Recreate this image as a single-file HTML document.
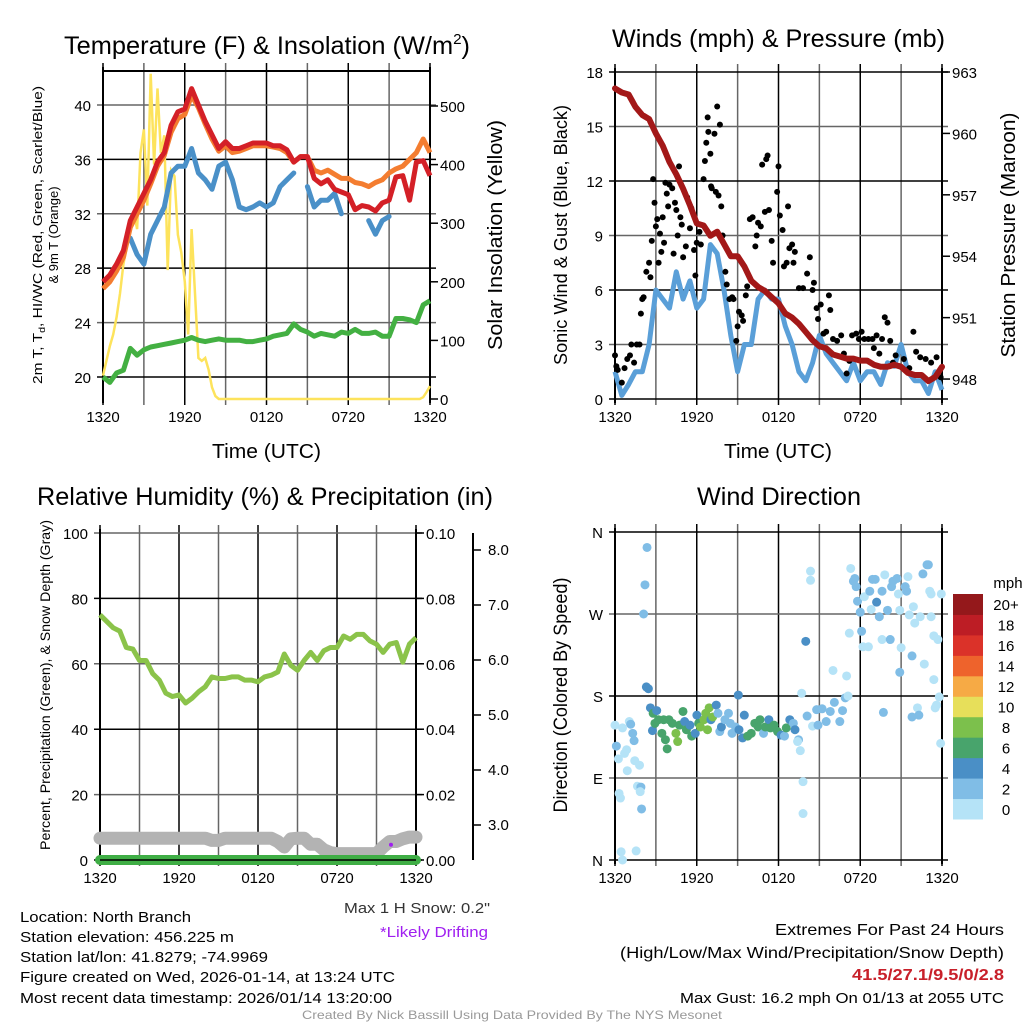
<!DOCTYPE html>
<html><head><meta charset="utf-8"><style>
html,body{margin:0;padding:0;background:#fff;}
svg{display:block;font-family:"Liberation Sans",sans-serif;}
</style></head><body>
<svg id="fig" width="1024" height="1024" viewBox="0 0 1024 1024" xmlns="http://www.w3.org/2000/svg">
<rect width="1024" height="1024" fill="#fff"/>
<!-- titles -->
<text x="64" y="54" font-size="25" textLength="406" lengthAdjust="spacingAndGlyphs">Temperature (F) &amp; Insolation (W/m<tspan font-size="15" dy="-10">2</tspan><tspan dy="10">)</tspan></text>
<text x="612" y="47" font-size="25" textLength="333" lengthAdjust="spacingAndGlyphs">Winds (mph) &amp; Pressure (mb)</text>
<text x="37" y="505" font-size="25" textLength="456" lengthAdjust="spacingAndGlyphs">Relative Humidity (%) &amp; Precipitation (in)</text>
<text x="697" y="505" font-size="25" textLength="164" lengthAdjust="spacingAndGlyphs">Wind Direction</text>
<!-- axis titles -->
<text x="212" y="458" font-size="20" textLength="109" lengthAdjust="spacingAndGlyphs">Time (UTC)</text>
<text x="724" y="458" font-size="20" textLength="108" lengthAdjust="spacingAndGlyphs">Time (UTC)</text>
<text transform="translate(42,235) rotate(-90)" text-anchor="middle" font-size="13" textLength="298" lengthAdjust="spacingAndGlyphs">2m T, T<tspan font-size="9" dy="3">d</tspan><tspan dy="-3">, HI/WC (Red, Green, Scarlet/Blue)</tspan></text>
<text transform="translate(58,235) rotate(-90)" text-anchor="middle" font-size="13">&amp; 9m T (Orange)</text>
<text transform="translate(502,235) rotate(-90)" text-anchor="middle" font-size="20" textLength="230" lengthAdjust="spacingAndGlyphs">Solar Insolation (Yellow)</text>
<text transform="translate(567,235) rotate(-90)" text-anchor="middle" font-size="18" textLength="260" lengthAdjust="spacingAndGlyphs">Sonic Wind &amp; Gust (Blue, Black)</text>
<text transform="translate(1015,235) rotate(-90)" text-anchor="middle" font-size="20" textLength="245" lengthAdjust="spacingAndGlyphs">Station Pressure (Maroon)</text>
<text transform="translate(50,685) rotate(-90)" text-anchor="middle" font-size="14" textLength="330" lengthAdjust="spacingAndGlyphs">Percent, Precipitation (Green), &amp; Snow Depth (Gray)</text>
<text transform="translate(567,695) rotate(-90)" text-anchor="middle" font-size="19" textLength="235" lengthAdjust="spacingAndGlyphs">Direction (Colored By Speed)</text>
<!-- footer text -->
<text x="344" y="913" font-size="15" textLength="146" lengthAdjust="spacingAndGlyphs" fill="#333">Max 1 H Snow: 0.2"</text>
<text x="380" y="937" font-size="15" textLength="108" lengthAdjust="spacingAndGlyphs" fill="#a020f0">*Likely Drifting</text>
<text x="20" y="922" font-size="15" textLength="171" lengthAdjust="spacingAndGlyphs">Location: North Branch</text>
<text x="20" y="942" font-size="15" textLength="214" lengthAdjust="spacingAndGlyphs">Station elevation: 456.225 m</text>
<text x="20" y="962" font-size="15" textLength="248" lengthAdjust="spacingAndGlyphs">Station lat/lon: 41.8279; -74.9969</text>
<text x="20" y="982" font-size="15" textLength="375" lengthAdjust="spacingAndGlyphs">Figure created on Wed, 2026-01-14, at 13:24 UTC</text>
<text x="20" y="1003" font-size="15" textLength="372" lengthAdjust="spacingAndGlyphs">Most recent data timestamp: 2026/01/14 13:20:00</text>
<text x="775" y="935" font-size="16" textLength="229" lengthAdjust="spacingAndGlyphs">Extremes For Past 24 Hours</text>
<text x="620" y="958" font-size="16" textLength="384" lengthAdjust="spacingAndGlyphs">(High/Low/Max Wind/Precipitation/Snow Depth)</text>
<text x="852" y="980" font-size="16" font-weight="bold" fill="#c8202a" textLength="152" lengthAdjust="spacingAndGlyphs">41.5/27.1/9.5/0/2.8</text>
<text x="680" y="1003" font-size="15" textLength="324" lengthAdjust="spacingAndGlyphs">Max Gust: 16.2 mph On 01/13 at 2055 UTC</text>
<text x="302" y="1019" font-size="12" fill="#999" textLength="420" lengthAdjust="spacingAndGlyphs">Created By Nick Bassill Using Data Provided By The NYS Mesonet</text>
<g id="layer"></g>
</svg>
<script>
// ---------- data ----------
const xLabels = ["1320","1920","0120","0720","1320"];
const tempRed = [27,27.5,28.3,29.3,31.5,32.5,33.5,34.5,35.8,36.5,38.5,39.5,39.7,41.2,40,38.8,37.8,36.8,37.3,36.8,36.8,37,37.2,37.2,37.2,37,37,36.7,35.8,36.2,36.2,34.6,34.2,34.5,33.8,33.6,33.4,32.3,32.6,32.5,32.2,32.8,33,34.7,34.8,33,35.8,35.9,34.8];
const tempOrange = [26.5,27,27.8,28.8,31,32,33,34.2,35.5,36.3,38,39,39.3,40.7,39.8,38.6,37.5,36.6,37,36.5,36.6,36.8,37,37,37,36.9,36.8,36.5,35.8,36.2,36.2,35.2,35,35.2,34.9,34.6,34.6,34.3,34.2,34,34.3,34.5,35,35.3,35.5,36,36.5,37.5,36.5];
const tempBlue = [null,null,null,null,30.2,29,28.3,30.5,31.5,32.5,35,35.5,35.5,36.8,35,34.5,33.8,35.5,35.8,34.5,32.5,32.3,32.5,32.8,32.5,32.8,34,34.5,35,null,34,32.5,33,33,33.5,32,null,null,null,31.5,30.5,31.5,31.8,null,null,34,null,null,null];
const dewGreen = [20,19.6,20.3,20.5,22.1,21.6,22,22.2,22.3,22.4,22.5,22.6,22.7,22.9,22.7,22.6,22.7,22.8,22.7,22.7,22.7,22.6,22.6,22.7,22.8,23,23.1,23.2,23.9,23.5,23.3,23,23.2,23.1,23,23.3,23.2,23.5,23.2,23.2,23.3,23,23,24.3,24.3,24.2,24,25.3,25.6];
const solar = [40,65,90,110,140,180,230,260,300,320,290,420,460,330,555,400,530,420,450,220,390,380,280,250,200,110,290,180,70,65,70,50,20,5,0,0,0,0,0,0,0,0,0,0,0,0,0,0,0,0,0,0,0,0,0,0,0,0,0,0,0,0,0,0,0,0,0,0,0,0,0,0,0,0,0,0,0,0,0,0,0,0,0,0,0,0,0,0,0,0,0,0,0,0,3,12,22];
const pressure = [962.2,962.0,961.9,961.3,960.9,960.7,960.0,959.4,958.6,958.0,957.3,956.5,955.6,955.5,955.0,955.2,954.6,954.0,954.0,953.5,952.8,952.5,952.3,952.0,951.7,951.2,951.0,950.7,950.3,949.9,949.6,949.5,949.2,949.1,949.0,949.0,948.9,948.9,948.7,948.6,948.6,948.7,948.6,948.3,948.2,948.2,947.9,948.1,948.6];
const windSpeed = [1.5,0.2,0.8,1.5,1.5,3,6,5.5,5,7,5.5,6.5,5,5.5,8.5,8,6,3.5,1.5,3,3,5.5,6,5.5,5.5,4,3,1.5,1,2,3.5,2.5,2,1.5,1,2,1,1.5,1.5,0.8,2,1.8,3,1.5,1,1,0.3,1.5,0.5];
const gustHours = [0,0.1,0.2,0.5,0.7,0.9,1.1,1.2,1.4,1.6,1.8,1.9,2.0,2.1,2.3,2.5,2.6,2.7,2.8,2.9,3.0,3.1,3.2,3.3,3.4,3.5,3.6,3.7,3.8,3.9,4.0,4.2,4.3,4.4,4.5,4.6,4.7,4.8,4.9,5.0,5.2,5.3,5.5,5.6,5.8,5.9,6.0,6.2,6.3,6.5,6.6,6.7,6.8,6.85,7.0,7.05,7.1,7.3,7.4,7.5,7.6,7.7,7.8,7.9,8.1,8.2,8.4,8.6,8.7,8.9,9.0,9.1,9.3,9.4,9.6,9.7,9.9,10.1,10.3,10.4,10.5,10.7,10.8,11.0,11.1,11.2,11.3,11.5,11.6,11.9,12.0,12.1,12.3,12.4,12.6,12.7,12.8,13.0,13.1,13.2,13.5,13.8,14.1,14.3,14.5,14.6,14.8,14.9,15.1,15.3,15.5,15.7,15.8,16.0,16.3,16.6,16.8,17.0,17.2,17.4,17.7,17.9,18.1,18.3,18.6,18.9,19.0,19.2,19.4,19.6,19.8,20.0,20.2,20.4,20.6,20.9,21.2,21.6,21.9,22.1,22.4,22.8,23.2,23.6,23.9];
const gustValues = [2.4,1.8,1.6,0.9,1.7,2.2,2.4,3.0,2.0,3.0,3.0,4.7,5.5,5.6,7.0,7.5,6.7,8.7,12.1,10.8,9.5,9.9,7.5,9.1,8.1,10,8.6,11.9,11.3,10.6,11.8,11.6,8.0,10.8,10.4,9.0,12.8,10.0,9.6,7.8,8.4,11.1,9.4,10.5,8.2,6.8,8.6,9.2,8.5,12.1,13.1,14.1,15.5,14.7,13.5,11.7,11.6,14.6,11.4,16.1,11.2,15.1,10.6,9.0,7.0,6.3,5.5,5.6,5.5,3.2,4.0,4.8,4.6,4.3,5.7,6.2,9.9,10.0,8.4,9.0,9.7,9.5,12.9,10.3,13.2,13.4,10.4,8.7,7.5,11.4,12.8,10.1,9.3,7.3,7.5,10.6,8.3,8.5,7.5,8.1,6.1,6.1,6.9,7.8,6.0,6.4,5.0,4.4,5.2,3.6,3.7,5.7,4.9,3.3,3.2,3.5,2.5,1.4,2.1,3.5,3.6,3.3,3.7,3.3,3.3,3.3,2.8,3.5,2.5,3.3,4.5,4.2,3.2,2.0,2.4,1.8,2.2,1.7,3.7,2.6,2.3,2.2,2.0,2.3,1.2];
const rh = [75,73,71,70,65,64.5,61,61,57,55,51,50,50.5,48,49.5,51.5,53,56,55.5,55.5,56,56,55,55,54.5,56,56.5,57.5,63,59.5,58,61,63.5,61,64,65,65,68.5,67.5,69,69,67,66,63.5,66,66.5,60.5,66,68];
const precip = [0,0,0,0,0,0,0,0,0,0,0,0,0,0,0,0,0,0,0,0,0,0,0,0,0,0,0,0,0,0,0,0,0,0,0,0,0,0,0,0,0,0,0,0,0,0,0,0,0];
const snowDepth = [2.76,2.76,2.76,2.76,2.76,2.76,2.76,2.76,2.76,2.76,2.76,2.76,2.76,2.76,2.76,2.76,2.76,2.72,2.72,2.76,2.76,2.76,2.76,2.76,2.76,2.76,2.76,2.7,2.6,2.75,2.76,2.76,2.65,2.65,2.55,2.5,2.48,2.48,2.48,2.48,2.48,2.48,2.48,2.6,2.7,2.7,2.75,2.78,2.78];
const driftHours = [22.1];
const driftValues = [2.64];
const dirHours = [0,0.1,0.25,0.55,0.7,0.85,0.9,0.3,0.4,0.45,0.55,1.05,1.15,1.3,1.4,1.45,1.8,1.55,1.65,1.95,1.9,1.85,2.1,2.2,2.35,2.3,2.45,2.6,2.75,
2.8,2.93,3.06,3.19,3.44,3.57,3.7,3.83,3.96,4.21,4.47,4.6,4.73,4.99,5.11,5.24,5.5,5.63,5.89,6.01,6.14,6.27,6.53,6.66,6.79,6.91,7.04,7.17,7.43,7.56,7.69,7.81,8.07,9.05,8.33,8.46,8.59,8.84,9.1,9.36,9.49,9.74,10.0,10.26,10.51,10.64,10.9,11.03,11.29,11.41,11.67,11.93,12.19,12.44,12.57,12.83,13.09,13.21,13.47,
14.0,13.8,13.8,13.7,13.6,13.4,14.1,14.35,14.35,14.5,14.8,15.2,14.9,15.5,15.8,16.0,16.1,16.5,16.7,17.0,16.9,17.1,17.2,17.3,17.5,17.6,17.7,17.8,18.0,18.1,18.2,18.3,18.6,18.7,18.8,18.9,19.1,19.2,19.4,19.6,19.6,19.7,19.8,20.0,20.2,20.3,20.4,20.7,20.8,20.9,20.9,21.0,21.3,21.4,21.5,21.6,21.8,21.8,21.9,22.0,22.2,22.3,22.4,22.6,22.7,22.9,23.0,23.1,23.2,23.2,23.4,23.4,23.5,23.6,23.7,23.8,23.9,23.95];
const dirDegrees = [148,125,111,145,117,121,98,73,68,9,0,152,149,139,131,109,104,10,81,56,80,75,270,302,343,190,188,167,142,
161,150,164,154,139,154,132,122,154,150,139,130,148,163,152,143,148,136,139,159,150,146,154,161,143,167,154,157,170,161,141,146,154,181,161,150,139,146,143,134,159,136,139,150,146,154,139,146,154,145,148,141,137,136,145,154,150,143,132,
240,86,51,183,120,130,158,307,317,147,165,166,148,152,163,208,173,152,164,202,178,180,249,320,306,309,300,284,272,251,234,289,234,295,275,308,308,283,267,295,242,162,313,274,242,300,306,309,292,206,274,233,300,295,311,269,224,157,278,260,167,159,267,314,215,324,324,295,292,267,246,198,167,170,242,179,128,292];
const dirSpeeds = [1,3,1,1,1,1,1,1,1,0.5,0.5,1,2.5,3,3,1,1,0.5,1,3,3,1,3,3,3,4.5,4.5,4.5,4.5,
6.5,6.5,5,6.5,6.5,6.5,7,6.5,6.5,6.5,8.5,8.5,6.5,6.5,5,6.5,5,6.5,5,5,6.5,8.5,8.5,9,8.5,8.5,5,9,5,3,3,5,3,5,3,3,3,3,5,5,5,6.5,6.5,6.5,6.5,6.5,3,6.5,5,6.5,6.5,6.5,5,3,6.5,5,3,5,3,
4.5,1,1,1,1,1,3,1,1,1,3,3,3,3,3,1,3,3,3,1,3,1,1,1,3,3,3,3,3,3,1,1,1,3,1,3,3,5,3,3,1,3,1,3,3,3,3,3,1,3,1,1,3,3,1,1,3,3,1,1,1,3,1,3,1,3,3,1,1,1,1,1,1,1,1,1,1,1,1,1,1];
const speedBins = ["0","2","4","6","8","10","12","14","16","18","20+"];
const binColors = ["#b5e3f7","#80bde6","#4a8fc6","#48a46c","#7cc04c","#e7df5a","#f6aa45","#ee632c","#db3229","#bd1d25","#94181b"];

// ---------- helpers ----------
const NS = "http://www.w3.org/2000/svg";
const layer = document.getElementById("layer");
function mk(tag, attrs, parent) {
  const e = document.createElementNS(NS, tag);
  for (const k in attrs) e.setAttribute(k, attrs[k]);
  (parent || layer).appendChild(e);
  return e;
}
function tx(x0, x1) { return h => x0 + h / 24 * (x1 - x0); }
function linePath(vals, xf, yf, step) {
  let d = "", pen = false;
  vals.forEach((v, i) => {
    if (v === null) { pen = false; return; }
    d += (pen ? "L" : "M") + xf(i * step).toFixed(1) + "," + yf(v).toFixed(1);
    pen = true;
  });
  return d;
}
function speedColor(s) { return binColors[Math.min(10, Math.floor(s / 2))]; }

// generic panel frame
function frame(P, name) {
  const g = mk("g", {});
  
  
  const X = tx(P.x0, P.x1);
  for (let k = 0; k <= 8; k++) {
    const x = X(k * 3);
    const vl = mk("line", {x1: x, x2: x, y1: P.y0 - 8, y2: P.y1 + 6, stroke: k % 2 ? "#666" : "#000", "stroke-width": 1.5}, g);
    
    
  }
  P.yticks.forEach((t, i) => {
    const y = P.ly(t);
    const hl = mk("line", {x1: P.x0 - 6, x2: P.x1 + 6, y1: y, y2: y, stroke: i % 2 ? "#666" : "#000", "stroke-width": 1.5}, g);
    
    
    const lb = mk("text", {x: P.x0 - 12, y: y + 6, "text-anchor": "end", "font-size": 15}, g);
    lb.textContent = P.ylabels[i];
    
    
  });
  xLabels.forEach((t, i) => {
    const lb = mk("text", {x: X(i * 6), y: P.y1 + 23, "text-anchor": "middle", "font-size": 15}, g);
    lb.textContent = t;
    
    
  });
  const b = mk("path", {d: `M${P.x0},${P.y0 - 4}V${P.y1 + 4}M${P.x1},${P.y0 - 4}V${P.y1 + 4}`, stroke: "#000", "stroke-width": 2, fill: "none"}, g);
  
  
  if (P.rticks) {
    P.rticks.forEach((t, i) => {
      const y = P.ry(t);
      const tk = mk("line", {x1: P.x1, x2: P.x1 + 8, y1: y, y2: y, stroke: "#000", "stroke-width": 1.5}, g);
      
      
      const lb = mk("text", {x: P.x1 + 10, y: y + 6, "font-size": 15}, g);
      lb.textContent = P.rlabels[i];
      
      
    });
  }
  return X;
}

// ---------- Panel 1: temperature ----------
const P1 = {x0: 103, x1: 430, y0: 71, y1: 399};
const tY = v => 399 - (v - 18.38) * 13.6;
const sY = v => 399 - v * 0.586;
P1.ly = tY; P1.yticks = [20, 24, 28, 32, 36, 40]; P1.ylabels = ["20", "24", "28", "32", "36", "40"];
P1.ry = sY; P1.rticks = [0, 100, 200, 300, 400, 500]; P1.rlabels = ["0", "100", "200", "300", "400", "500"];
const X1 = frame(P1, "temperature");
const topLine1 = mk("line", {x1: 103, x2: 430, y1: 71, y2: 71, stroke: "#000", "stroke-width": 2});


const solarLine = mk("path", {d: linePath(solar, X1, sY, 0.25), stroke: "#fde35c", "stroke-width": 2.5, fill: "none"});


const dewLine = mk("path", {d: linePath(dewGreen, X1, tY, 0.5), stroke: "#43b042", "stroke-width": 5, fill: "none", "stroke-linejoin": "round"});


const wcLine = mk("path", {d: linePath(tempBlue, X1, tY, 0.5), stroke: "#4a90c8", "stroke-width": 5, fill: "none", "stroke-linejoin": "round", "stroke-linecap": "round"});


const t9Line = mk("path", {d: linePath(tempOrange, X1, tY, 0.5), stroke: "#f47d30", "stroke-width": 5, fill: "none", "stroke-linejoin": "round"});


const t2Line = mk("path", {d: linePath(tempRed, X1, tY, 0.5), stroke: "#d42027", "stroke-width": 5, fill: "none", "stroke-linejoin": "round"});



// ---------- Panel 2: winds ----------
const P2 = {x0: 615, x1: 942, y0: 72, y1: 399};
const wY = v => 399 - v * 18.17;
const pY = p => 72 + (963 - p) * 20.47;
P2.ly = wY; P2.yticks = [0, 3, 6, 9, 12, 15, 18]; P2.ylabels = ["0", "3", "6", "9", "12", "15", "18"];
P2.ry = pY; P2.rticks = [948, 951, 954, 957, 960, 963]; P2.rlabels = ["948", "951", "954", "957", "960", "963"];
const X2 = frame(P2, "winds");
const windLine = mk("path", {d: linePath(windSpeed, X2, wY, 0.5), stroke: "#5a9fd8", "stroke-width": 5, fill: "none", "stroke-linejoin": "round"});


gustHours.forEach((h, i) => {
  const c = mk("circle", {cx: X2(h), cy: wY(gustValues[i]), r: 3, fill: "#000"});
  
  
});
const presLine = mk("path", {d: linePath(pressure, X2, pY, 0.5), stroke: "#a31818", "stroke-width": 6, fill: "none", "stroke-linejoin": "round", "stroke-linecap": "round"});



// ---------- Panel 3: humidity ----------
const P3 = {x0: 100, x1: 416, y0: 533, y1: 860};
const rY = v => 860 - v * 3.27;
const snY = s => 825 - (s - 3) * 55;
const prY = v => 860 - v * 3270;
P3.ly = rY; P3.yticks = [0, 20, 40, 60, 80, 100]; P3.ylabels = ["0", "20", "40", "60", "80", "100"];
P3.ry = prY; P3.rticks = [0, 0.02, 0.04, 0.06, 0.08, 0.1]; P3.rlabels = ["0.00", "0.02", "0.04", "0.06", "0.08", "0.10"];
const X3 = frame(P3, "humidity");
const snowAxis = mk("line", {x1: 473, x2: 473, y1: 533, y2: 860, stroke: "#000", "stroke-width": 2});


[3, 4, 5, 6, 7, 8].forEach(s => {
  const tk = mk("line", {x1: 473, x2: 481, y1: snY(s), y2: snY(s), stroke: "#000", "stroke-width": 1.5});
  
  
  const lb = mk("text", {x: 488, y: snY(s) + 5, "font-size": 15});
  lb.textContent = s.toFixed(1);
  
  
});
const snowLine = mk("path", {d: linePath(snowDepth, X3, snY, 0.5), stroke: "#b3b3b3", "stroke-width": 13, fill: "none", "stroke-linejoin": "round", "stroke-linecap": "round"});


const precipLine = mk("path", {d: linePath(precip, X3, prY, 0.5), stroke: "#3fae45", "stroke-width": 10, fill: "none", "stroke-linecap": "round"});


const zeroLine = mk("line", {x1: 100, x2: 416, y1: 860, y2: 860, stroke: "#000", "stroke-width": 1.5});


const rhLine = mk("path", {d: linePath(rh, X3, rY, 0.5), stroke: "#8bc34a", "stroke-width": 5, fill: "none", "stroke-linejoin": "round"});


driftHours.forEach((h, i) => {
  const c = mk("circle", {cx: X3(h), cy: snY(driftValues[i]), r: 2, fill: "#a020f0"});
  
  
});

// ---------- Panel 4: wind direction ----------
const P4 = {x0: 615, x1: 942, y0: 532, y1: 860};
const dY = d => 860 - d / 360 * 328;
P4.ly = dY; P4.yticks = [0, 90, 180, 270, 360]; P4.ylabels = ["N", "E", "S", "W", "N"];
const X4 = frame(P4, "direction");
dirHours.forEach((h, i) => {
  const c = mk("circle", {cx: X4(h), cy: dY(dirDegrees[i]), r: 4.5, fill: speedColor(dirSpeeds[i])});
  
  
});
// colorbar
const cbTop = 594, cbBot = 819, cbH = (cbBot - cbTop) / speedBins.length;
speedBins.forEach((lab, i) => {
  const y = cbBot - (i + 1) * cbH;
  const r = mk("rect", {x: 953, y: y, width: 30, height: cbH + 0.5, fill: binColors[i]});
  
  
  const t = mk("text", {x: 1006, y: y + cbH / 2 + 6, "text-anchor": "middle", "font-size": 15});
  t.textContent = lab;
  
  
});
const mph = mk("text", {x: 1008, y: 588, "text-anchor": "middle", "font-size": 15});
mph.textContent = "mph";


</script>
</body></html>
